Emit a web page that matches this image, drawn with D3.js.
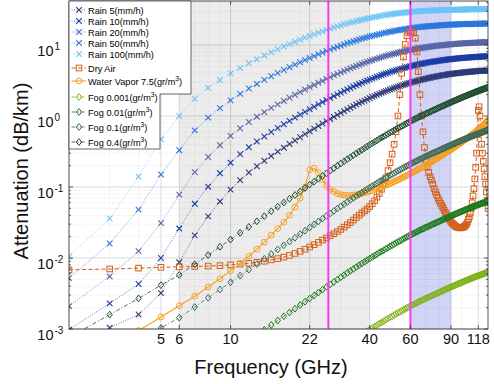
<!DOCTYPE html>
<html lang="en">
<head>
<meta charset="UTF-8">
<title>Attenuation vs Frequency</title>
<style>
  body { margin: 0; background: #fff; }
  svg { display: block; font-family: 'Liberation Sans', Arial, sans-serif; }
</style>
</head>
<body>
<div id="chart"></div>
<script src="https://d3js.org/d3.v7.min.js"></script>
<script>
// one sample per GHz, 2..130
const freqGHz = [2,3,4,5,6,7,8,9,10,11,12,13,14,15,16,17,18,19,20,21,22,23,24,25,26,27,28,29,30,
  31,32,33,34,35,36,37,38,39,40,41,42,43,44,45,46,47,48,49,50,51,52,53,54,55,56,57,58,59,60,
  61,62,63,64,65,66,67,68,69,70,71,72,73,74,75,76,77,78,79,80,81,82,83,84,85,86,87,88,89,90,
  91,92,93,94,95,96,97,98,99,100,101,102,103,104,105,106,107,108,109,110,111,112,113,114,115,
  116,117,118,119,120,121,122,123,124,125,126,127,128,129,130];

// attenuation in dB/km
const rain5 = [0.00046,0.00104,0.0016,0.0032,0.0087,0.0208,0.0386,0.0626,0.092,
  0.125,0.160,0.196,0.234,0.273,0.315,0.358,0.404,0.452,0.502,
  0.555,0.609,0.665,0.724,0.784,0.846,0.909,0.974,1.039,1.106,
  1.173,1.24,1.31,1.38,1.45,1.52,1.58,1.65,1.72,1.79,
  1.86,1.92,1.99,2.05,2.12,2.18,2.24,2.30,2.36,2.42,
  2.48,2.53,2.59,2.64,2.70,2.75,2.80,2.85,2.90,2.95,
  2.99,3.04,3.08,3.13,3.17,3.21,3.25,3.29,3.32,3.36,
  3.39,3.43,3.46,3.50,3.53,3.56,3.59,3.62,3.65,3.68,
  3.71,3.73,3.76,3.78,3.81,3.83,3.85,3.88,3.90,3.92,
  3.94,3.96,3.97,3.99,4.01,4.03,4.04,4.06,4.07,4.09,
  4.10,4.12,4.13,4.14,4.16,4.17,4.18,4.20,4.21,4.22,
  4.23,4.24,4.25,4.27,4.28,4.29,4.30,4.31,4.32,4.33,
  4.34,4.34,4.35,4.35,4.36,4.36,4.37,4.37,4.38,4.38];
const rain10 = [0.00098,0.0023,0.0043,0.0100,0.026,0.058,0.101,0.156,0.220,
  0.290,0.363,0.438,0.515,0.595,0.678,0.765,0.855,0.948,1.045,
  1.144,1.246,1.351,1.459,1.568,1.679,1.79,1.905,2.02,2.135,
  2.25,2.37,2.48,2.60,2.71,2.82,2.93,3.05,3.16,3.26,
  3.36,3.47,3.57,3.68,3.78,3.87,3.97,4.06,4.16,4.25,
  4.33,4.41,4.50,4.58,4.66,4.73,4.80,4.88,4.95,5.02,
  5.08,5.14,5.21,5.27,5.33,5.38,5.44,5.49,5.55,5.60,
  5.65,5.69,5.74,5.78,5.83,5.87,5.91,5.94,5.98,6.02,
  6.05,6.09,6.12,6.16,6.19,6.22,6.25,6.28,6.31,6.34,
  6.36,6.39,6.41,6.44,6.46,6.48,6.50,6.53,6.55,6.57,
  6.58,6.60,6.61,6.63,6.64,6.66,6.67,6.69,6.70,6.72,
  6.73,6.75,6.76,6.77,6.79,6.80,6.82,6.83,6.85,6.86,
  6.87,6.88,6.89,6.90,6.91,6.92,6.93,6.94,6.95,6.96];
const rain20 = [0.0021,0.0055,0.0125,0.031,0.078,0.162,0.265,0.388,0.526,
  0.673,0.824,0.978,1.135,1.30,1.46,1.63,1.81,1.99,2.17,
  2.36,2.55,2.74,2.94,3.13,3.33,3.53,3.73,3.92,4.12,
  4.31,4.51,4.70,4.89,5.07,5.25,5.43,5.61,5.78,5.95,
  6.11,6.27,6.43,6.59,6.75,6.89,7.02,7.16,7.29,7.43,
  7.55,7.67,7.79,7.91,8.03,8.13,8.23,8.33,8.43,8.53,
  8.61,8.70,8.78,8.87,8.95,9.02,9.09,9.17,9.24,9.31,
  9.37,9.43,9.49,9.55,9.61,9.66,9.71,9.76,9.81,9.86,
  9.90,9.94,9.98,10.03,10.07,10.11,10.14,10.18,10.21,10.25,
  10.28,10.31,10.34,10.37,10.40,10.43,10.45,10.48,10.50,10.53,
  10.55,10.56,10.58,10.60,10.62,10.64,10.65,10.67,10.69,10.71,
  10.73,10.74,10.76,10.77,10.79,10.81,10.82,10.84,10.85,10.87,
  10.88,10.89,10.90,10.91,10.92,10.93,10.94,10.95,10.96,10.97];
const rain50 = [0.0052,0.016,0.048,0.15,0.33,0.628,0.948,1.29,1.66,
  2.05,2.44,2.83,3.23,3.63,4.04,4.45,4.87,5.30,5.72,
  6.15,6.57,6.99,7.41,7.83,8.24,8.65,9.05,9.43,9.82,
  10.2,10.6,10.9,11.3,11.6,12.0,12.3,12.6,12.9,13.2,
  13.5,13.7,14.0,14.2,14.5,14.7,14.9,15.2,15.4,15.6,
  15.8,16.0,16.1,16.3,16.5,16.6,16.8,16.9,17.1,17.2,
  17.3,17.4,17.6,17.7,17.8,17.9,18.0,18.1,18.2,18.3,
  18.36,18.42,18.48,18.54,18.6,18.66,18.72,18.78,18.84,18.9,
  18.96,19.02,19.08,19.14,19.2,19.24,19.28,19.32,19.36,19.4,
  19.42,19.44,19.46,19.48,19.5,19.54,19.58,19.62,19.66,19.7,
  19.71,19.72,19.73,19.74,19.75,19.76,19.77,19.78,19.79,19.8,
  19.82,19.84,19.86,19.88,19.9,19.92,19.94,19.96,19.98,20.0,
  20.01,20.02,20.03,20.04,20.05,20.06,20.07,20.08,20.09,20.1];
const rain100 = [0.0105,0.036,0.14,0.47,1.0,1.75,2.49,3.22,3.98,
  4.75,5.53,6.31,7.11,7.91,8.71,9.52,10.3,11.1,11.9,
  12.7,13.4,14.2,14.9,15.6,16.3,17.0,17.7,18.3,19.0,
  19.6,20.1,20.7,21.2,21.8,22.2,22.7,23.2,23.6,24.0,
  24.4,24.8,25.1,25.5,25.9,26.2,26.5,26.7,27.0,27.3,
  27.5,27.7,28.0,28.2,28.4,28.6,28.7,28.9,29.0,29.2,
  29.3,29.5,29.6,29.8,29.9,30.0,30.1,30.2,30.3,30.4,
  30.46,30.52,30.58,30.64,30.7,30.76,30.82,30.88,30.94,31.0,
  31.04,31.08,31.12,31.16,31.2,31.22,31.24,31.26,31.28,31.3,
  31.34,31.38,31.42,31.46,31.5,31.52,31.54,31.56,31.58,31.6,
  31.62,31.64,31.66,31.68,31.7,31.72,31.74,31.76,31.78,31.8,
  31.82,31.84,31.86,31.88,31.9,31.92,31.94,31.96,31.98,32.0,
  32.02,32.04,32.06,32.08,32.1,32.12,32.14,32.16,32.18,32.2];
const dryAir = [0.0068,0.0070,0.0072,0.0074,0.0075,0.0076,0.0077,0.0078,0.0080,
  0.0082,0.0084,0.0087,0.0090,0.0094,0.0098,0.0103,0.0109,0.0116,0.0124,
  0.0133,0.0143,0.0154,0.0166,0.0179,0.0192,0.0206,0.022,0.0236,0.0253,
  0.0272,0.0293,0.0316,0.0342,0.037,0.040,0.043,0.046,0.049,0.053,
  0.058,0.064,0.072,0.081,0.093,0.11,0.135,0.17,0.22,0.29,
  0.4,0.6,1.0,2.0,4.0,6.8,10.2,13.5,14.8,15.2,
  15.2,14.8,12.5,8.0,4.2,2.0,1.0,0.6,0.36,0.24,
  0.19,0.16,0.14,0.125,0.11,0.095,0.085,0.077,0.07,0.064,
  0.059,0.055,0.051,0.047,0.044,0.041,0.038,0.036,0.034,0.032,
  0.031,0.03,0.029,0.028,0.0275,0.027,0.0268,0.0266,0.0266,0.0268,
  0.027,0.0275,0.028,0.029,0.030,0.032,0.035,0.038,0.043,0.05,
  0.06,0.075,0.095,0.13,0.19,0.3,0.55,1.2,1.35,1.0,
  0.6,0.4,0.3,0.23,0.18,0.14,0.11,0.085,0.065,0.05];
const waterVapor = [0.00024,0.00053,0.00095,0.00148,0.00213,0.0029,0.0039,0.0051,0.0066,
  0.0084,0.0106,0.0133,0.0167,0.021,0.026,0.032,0.040,0.052,0.07,
  0.1,0.175,0.185,0.16,0.127,0.105,0.093,0.086,0.081,0.078,
  0.077,0.076,0.076,0.077,0.078,0.079,0.081,0.083,0.085,0.087,
  0.089,0.092,0.094,0.097,0.10,0.103,0.106,0.109,0.112,0.115,
  0.119,0.122,0.126,0.13,0.134,0.138,0.142,0.146,0.15,0.155,
  0.159,0.164,0.168,0.173,0.178,0.183,0.188,0.193,0.198,0.204,
  0.21,0.215,0.221,0.227,0.233,0.239,0.245,0.252,0.258,0.265,
  0.272,0.279,0.286,0.293,0.30,0.308,0.315,0.323,0.331,0.339,
  0.347,0.356,0.364,0.373,0.382,0.391,0.40,0.41,0.42,0.43,
  0.44,0.45,0.46,0.47,0.48,0.49,0.50,0.51,0.525,0.535,
  0.55,0.56,0.575,0.585,0.60,0.615,0.63,0.645,0.66,0.675,
  0.69,0.71,0.725,0.745,0.765,0.785,0.805,0.83,0.855,0.88];
const fog0001 = [1.91e-6,3.98e-6,6.76e-6,1.035e-5,1.445e-5,2.04e-5,2.75e-5,3.6e-5,4.55e-5,
  5.64e-5,6.86e-5,8.22e-5,9.73e-5,1.14e-4,1.32e-4,1.51e-4,1.71e-4,1.93e-4,2.17e-4,
  2.42e-4,2.69e-4,2.97e-4,3.27e-4,3.58e-4,3.91e-4,4.25e-4,4.6e-4,4.97e-4,5.36e-4,
  5.75e-4,6.17e-4,6.58e-4,7.01e-4,7.45e-4,7.91e-4,8.36e-4,8.83e-4,9.31e-4,9.82e-4,
  1.03e-3,1.08e-3,1.13e-3,1.19e-3,1.24e-3,1.29e-3,1.35e-3,1.40e-3,1.46e-3,1.51e-3,
  1.57e-3,1.63e-3,1.69e-3,1.74e-3,1.80e-3,1.86e-3,1.92e-3,1.98e-3,2.04e-3,2.10e-3,
  2.16e-3,2.22e-3,2.28e-3,2.34e-3,2.40e-3,2.46e-3,2.52e-3,2.58e-3,2.64e-3,2.70e-3,
  2.75e-3,2.81e-3,2.87e-3,2.93e-3,2.99e-3,3.05e-3,3.10e-3,3.16e-3,3.23e-3,3.29e-3,
  3.35e-3,3.41e-3,3.47e-3,3.53e-3,3.60e-3,3.66e-3,3.72e-3,3.78e-3,3.85e-3,3.91e-3,
  3.97e-3,4.04e-3,4.09e-3,4.16e-3,4.22e-3,4.29e-3,4.35e-3,4.41e-3,4.47e-3,4.53e-3,
  4.59e-3,4.66e-3,4.72e-3,4.79e-3,4.84e-3,4.91e-3,4.97e-3,5.04e-3,5.09e-3,5.15e-3,
  5.21e-3,5.27e-3,5.33e-3,5.40e-3,5.46e-3,5.52e-3,5.57e-3,5.64e-3,5.69e-3,5.75e-3,
  5.81e-3,5.86e-3,5.93e-3,5.98e-3,6.04e-3,6.10e-3,6.15e-3,6.21e-3,6.27e-3,6.32e-3];
const fog001 = [1.91e-5,3.98e-5,6.76e-5,1.035e-4,1.445e-4,2.04e-4,2.75e-4,3.6e-4,4.55e-4,
  5.64e-4,6.86e-4,8.22e-4,9.73e-4,1.14e-3,1.32e-3,1.51e-3,1.71e-3,1.93e-3,2.17e-3,
  2.42e-3,2.69e-3,2.97e-3,3.27e-3,3.58e-3,3.91e-3,4.25e-3,4.6e-3,4.97e-3,5.36e-3,
  5.75e-3,6.17e-3,6.58e-3,7.01e-3,7.45e-3,7.91e-3,8.36e-3,8.83e-3,9.31e-3,9.82e-3,
  1.03e-2,1.08e-2,1.13e-2,1.19e-2,1.24e-2,1.29e-2,1.35e-2,1.40e-2,1.46e-2,1.51e-2,
  1.57e-2,1.63e-2,1.69e-2,1.74e-2,1.80e-2,1.86e-2,1.92e-2,1.98e-2,2.04e-2,2.10e-2,
  2.16e-2,2.22e-2,2.28e-2,2.34e-2,2.40e-2,2.46e-2,2.52e-2,2.58e-2,2.64e-2,2.70e-2,
  2.75e-2,2.81e-2,2.87e-2,2.93e-2,2.99e-2,3.05e-2,3.10e-2,3.16e-2,3.23e-2,3.29e-2,
  3.35e-2,3.41e-2,3.47e-2,3.53e-2,3.60e-2,3.66e-2,3.72e-2,3.78e-2,3.85e-2,3.91e-2,
  3.97e-2,4.04e-2,4.09e-2,4.16e-2,4.22e-2,4.29e-2,4.35e-2,4.41e-2,4.47e-2,4.53e-2,
  4.59e-2,4.66e-2,4.72e-2,4.79e-2,4.84e-2,4.91e-2,4.97e-2,5.04e-2,5.09e-2,5.15e-2,
  5.21e-2,5.27e-2,5.33e-2,5.40e-2,5.46e-2,5.52e-2,5.57e-2,5.64e-2,5.69e-2,5.75e-2,
  5.81e-2,5.86e-2,5.93e-2,5.98e-2,6.04e-2,6.10e-2,6.15e-2,6.21e-2,6.27e-2,6.32e-2];
const fog01 = [1.91e-4,3.98e-4,6.76e-4,1.035e-3,1.445e-3,2.04e-3,2.75e-3,3.6e-3,4.55e-3,
  5.64e-3,6.86e-3,8.22e-3,9.73e-3,1.14e-2,1.32e-2,1.51e-2,1.71e-2,1.93e-2,2.17e-2,
  2.42e-2,2.69e-2,2.97e-2,3.27e-2,3.58e-2,3.91e-2,4.25e-2,4.6e-2,4.97e-2,5.36e-2,
  5.75e-2,6.17e-2,6.58e-2,7.01e-2,7.45e-2,7.91e-2,8.36e-2,8.83e-2,9.31e-2,9.82e-2,
  0.103,0.108,0.113,0.119,0.124,0.129,0.135,0.140,0.146,0.151,
  0.157,0.163,0.169,0.174,0.180,0.186,0.192,0.198,0.204,0.210,
  0.216,0.222,0.228,0.234,0.240,0.246,0.252,0.258,0.264,0.270,
  0.275,0.281,0.287,0.293,0.299,0.305,0.310,0.316,0.323,0.329,
  0.335,0.341,0.347,0.353,0.360,0.366,0.372,0.378,0.385,0.391,
  0.397,0.404,0.409,0.416,0.422,0.429,0.435,0.441,0.447,0.453,
  0.459,0.466,0.472,0.479,0.484,0.491,0.497,0.504,0.509,0.515,
  0.521,0.527,0.533,0.540,0.546,0.552,0.557,0.564,0.569,0.575,
  0.581,0.586,0.593,0.598,0.604,0.610,0.615,0.621,0.627,0.632];
const fog04 = [0.000764,0.00159,0.0027,0.00414,0.00578,0.00816,0.011,0.0144,0.0182,
  0.0226,0.0274,0.0329,0.0389,0.0456,0.0528,0.0604,0.0684,0.0772,0.0868,
  0.0968,0.108,0.119,0.131,0.143,0.156,0.170,0.184,0.199,0.214,
  0.230,0.247,0.263,0.280,0.298,0.316,0.334,0.353,0.372,0.393,
  0.412,0.432,0.452,0.476,0.496,0.516,0.540,0.560,0.584,0.604,
  0.628,0.652,0.676,0.696,0.720,0.744,0.768,0.792,0.816,0.840,
  0.864,0.888,0.912,0.936,0.960,0.984,1.008,1.032,1.056,1.080,
  1.100,1.124,1.148,1.172,1.196,1.220,1.240,1.264,1.292,1.316,
  1.340,1.364,1.388,1.412,1.440,1.464,1.488,1.512,1.540,1.564,
  1.588,1.616,1.636,1.664,1.688,1.716,1.740,1.764,1.788,1.812,
  1.836,1.864,1.888,1.916,1.936,1.964,1.988,2.016,2.036,2.060,
  2.084,2.108,2.132,2.160,2.184,2.208,2.228,2.256,2.276,2.300,
  2.324,2.344,2.372,2.392,2.416,2.440,2.460,2.484,2.508,2.528];

const xTicks = [5, 6, 10, 22, 40, 60, 90, 118];
const yExponents = [-3, -2, -1, 0, 1];
const bandGray = [6, 40];   // GHz
const bandBlue = [60, 90];  // GHz
const markLines = [26.5, 60]; // GHz

const series = [
  {label: ['Rain 5(mm/h)'], values: rain5, color: '#2e3b78', mark: 'x', dash: '1,1.5', lw: 0.7},
  {label: ['Rain 10(mm/h)'], values: rain10, color: '#1b3ca6', mark: 'x', dash: '1,1.5', lw: 0.7},
  {label: ['Rain 20(mm/h)'], values: rain20, color: '#5766a8', mark: 'x', dash: '1,1.5', lw: 0.7},
  {label: ['Rain 50(mm/h)'], values: rain50, color: '#2a78dc', mark: 'x', dash: '1,1.5', lw: 0.7},
  {label: ['Rain 100(mm/h)'], values: rain100, color: '#6cc4f4', mark: 'x', dash: '1,1.5', lw: 0.7},
  {label: ['Dry Air'], values: dryAir, color: '#d4601a', mark: 'square', dash: '4,2.5', lw: 1},
  {label: ['Water Vapor 7.5(gr/m', '3', ')'], values: waterVapor, color: '#f5a020', mark: 'circle', dash: null, lw: 1.1},
  {label: ['Fog 0.001(gr/m', '3', ')'], values: fog0001, color: '#7fb21a', mark: 'diamond', dash: '4,2,1,2', lw: 0.8},
  {label: ['Fog 0.01(gr/m', '3', ')'], values: fog001, color: '#1d7a1d', mark: 'diamond', dash: '4,2,1,2', lw: 0.8},
  {label: ['Fog 0.1(gr/m', '3', ')'], values: fog01, color: '#3b6a55', mark: 'diamond', dash: '4,2,1,2', lw: 0.8},
  {label: ['Fog 0.4(gr/m', '3', ')'], values: fog04, color: '#1f4d2e', mark: 'diamond', dash: '4,2,1,2', lw: 0.8}
];

const width = 494, height = 384;
const plot = {left: 69, right: 488, top: 1, bottom: 329};

const svg = d3.select('#chart').append('svg')
    .attr('width', width)
    .attr('height', height);

const x = d3.scaleLog().domain([2, 130]).range([plot.left, plot.right]);
const y = d3.scaleLog().domain([1e-3, 41.7]).range([plot.bottom, plot.top]);

svg.append('defs').append('clipPath').attr('id', 'clip')
  .append('rect')
    .attr('x', plot.left).attr('y', plot.top)
    .attr('width', plot.right - plot.left).attr('height', plot.bottom - plot.top);

// grid
const minorX = [2, 3, 4, 7, 8, 9, 20, 30, 50, 70, 80, 100];
const minorY = [];
yExponents.forEach(e => { for (let k = 2; k <= 9; k++) minorY.push(k * Math.pow(10, e)); });

const grid = svg.append('g');
grid.selectAll('.gxm').data(minorX).enter().append('line')
    .attr('x1', d => x(d)).attr('x2', d => x(d))
    .attr('y1', plot.top).attr('y2', plot.bottom)
    .attr('stroke', '#d6d6d6').attr('stroke-width', 0.6).attr('stroke-dasharray', '1,1.5');
grid.selectAll('.gx').data(xTicks).enter().append('line')
    .attr('x1', d => x(d)).attr('x2', d => x(d))
    .attr('y1', plot.top).attr('y2', plot.bottom)
    .attr('stroke', '#cccccc').attr('stroke-width', 0.7);
grid.selectAll('.gym').data(minorY.filter(v => v < 41.7)).enter().append('line')
    .attr('x1', plot.left).attr('x2', plot.right)
    .attr('y1', d => y(d)).attr('y2', d => y(d))
    .attr('stroke', '#d6d6d6').attr('stroke-width', 0.6).attr('stroke-dasharray', '1,1.5');
grid.selectAll('.gy').data(yExponents).enter().append('line')
    .attr('x1', plot.left).attr('x2', plot.right)
    .attr('y1', d => y(Math.pow(10, d))).attr('y2', d => y(Math.pow(10, d)))
    .attr('stroke', '#cccccc').attr('stroke-width', 0.7);

// shaded bands
svg.append('rect')
    .attr('x', x(bandGray[0])).attr('width', x(bandGray[1]) - x(bandGray[0]))
    .attr('y', plot.top).attr('height', plot.bottom - plot.top)
    .attr('fill', '#000').attr('fill-opacity', 0.075);
svg.append('rect')
    .attr('x', x(bandBlue[0])).attr('width', x(bandBlue[1]) - x(bandBlue[0]))
    .attr('y', plot.top).attr('height', plot.bottom - plot.top)
    .attr('fill', '#3f4bd6').attr('fill-opacity', 0.24);

// markers
function drawMark(g, type, color, size) {
    const s = size;
    if (type === 'x') {
        g.append('path').attr('d', `M${-s},${-s}L${s},${s}M${-s},${s}L${s},${-s}`)
            .attr('stroke', color).attr('stroke-width', 1.1).attr('fill', 'none');
    } else if (type === 'square') {
        g.append('rect').attr('x', -s).attr('y', -s).attr('width', 2 * s).attr('height', 2 * s)
            .attr('stroke', color).attr('stroke-width', 1).attr('fill', 'none');
    } else if (type === 'circle') {
        g.append('circle').attr('r', s)
            .attr('stroke', color).attr('stroke-width', 1).attr('fill', 'none');
    } else {
        g.append('path').attr('d', `M0,${-s - 0.7}L${s},0L0,${s + 0.7}L${-s},0Z`)
            .attr('stroke', color).attr('stroke-width', 1).attr('fill', 'none');
    }
}
const markSize = {x: 2.8, square: 2.8, circle: 2.9, diamond: 2.7};

const data = svg.append('g').attr('clip-path', 'url(#clip)');
const line = d3.line().x(d => x(d[0])).y(d => y(d[1]));

series.forEach(s => {
    const pts = freqGHz.map((f, i) => [f, s.values[i]]).filter(d => d[1] !== undefined);
    const g = data.append('g');
    g.append('path').datum(pts)
        .attr('d', line)
        .attr('fill', 'none')
        .attr('stroke', s.color)
        .attr('stroke-width', s.lw)
        .attr('stroke-dasharray', s.dash);
    pts.forEach(p => {
        const m = g.append('g').attr('transform', `translate(${x(p[0])},${y(p[1])})`);
        drawMark(m, s.mark, s.color, markSize[s.mark]);
    });
});

// marker frequencies
svg.selectAll('.vline').data(markLines).enter().append('line')
    .attr('x1', d => x(d)).attr('x2', d => x(d))
    .attr('y1', plot.top).attr('y2', plot.bottom)
    .attr('stroke', '#f53cf0').attr('stroke-width', 2);

// axes box and ticks
const axisColor = '#262626';
svg.append('rect')
    .attr('x', plot.left).attr('y', plot.top)
    .attr('width', plot.right - plot.left).attr('height', plot.bottom - plot.top)
    .attr('fill', 'none').attr('stroke', axisColor).attr('stroke-width', 0.8);

const ticks = svg.append('g').attr('stroke', axisColor).attr('stroke-width', 0.7);
xTicks.forEach(t => {
    ticks.append('line').attr('x1', x(t)).attr('x2', x(t)).attr('y1', plot.bottom).attr('y2', plot.bottom - 4);
    ticks.append('line').attr('x1', x(t)).attr('x2', x(t)).attr('y1', plot.top).attr('y2', plot.top + 4);
});
yExponents.forEach(e => {
    const yy = y(Math.pow(10, e));
    ticks.append('line').attr('x1', plot.left).attr('x2', plot.left + 4).attr('y1', yy).attr('y2', yy);
    ticks.append('line').attr('x1', plot.right).attr('x2', plot.right - 4).attr('y1', yy).attr('y2', yy);
});
minorY.filter(v => v < 41.7).forEach(v => {
    ticks.append('line').attr('x1', plot.left).attr('x2', plot.left + 2).attr('y1', y(v)).attr('y2', y(v));
    ticks.append('line').attr('x1', plot.right).attr('x2', plot.right - 2).attr('y1', y(v)).attr('y2', y(v));
});

// tick labels
svg.selectAll('.xl').data(xTicks).enter().append('text')
    .attr('x', d => x(d)).attr('y', 343.5)
    .attr('text-anchor', 'middle')
    .attr('font-size', 14.5).attr('fill', '#111')
    .text(d => d);

yExponents.forEach(e => {
    const yy = y(Math.pow(10, e));
    svg.append('text').attr('x', 53.5).attr('y', yy + 10.5)
        .attr('text-anchor', 'end').attr('font-size', 14.5).attr('fill', '#111').text('10');
    svg.append('text').attr('x', 54.5).attr('y', yy + 4.5)
        .attr('font-size', 10).attr('fill', '#111').text(e);
});

// axis titles
svg.append('text')
    .attr('x', 271).attr('y', 374)
    .attr('text-anchor', 'middle').attr('font-size', 20).attr('fill', '#111')
    .text('Frequency (GHz)');
svg.append('text')
    .attr('transform', 'translate(28,171) rotate(-90)')
    .attr('text-anchor', 'middle').attr('font-size', 20).attr('fill', '#111')
    .text('Attenuation (dB/km)');

// legend: wide upper block, narrower block for the fog entries
const rowY = [10, 21, 32, 43, 54, 68, 81, 97, 112, 127, 142];
const legend = svg.append('g');
const lgL = plot.left, lgT = plot.top, lgR = 191, lgStepY = 94, lgStepX = 160, lgB = 149;
legend.append('path')
    .attr('d', `M${lgL},${lgT}H${lgR}V${lgStepY}H${lgStepX}V${lgB}H${lgL}Z`)
    .attr('fill', '#fff').attr('stroke', axisColor).attr('stroke-width', 0.7);

series.forEach((s, i) => {
    const ry = rowY[i];
    legend.append('line')
        .attr('x1', 71.5).attr('x2', 86).attr('y1', ry).attr('y2', ry)
        .attr('stroke', s.color).attr('stroke-width', s.lw).attr('stroke-dasharray', s.dash);
    const m = legend.append('g').attr('transform', `translate(79,${ry})`);
    drawMark(m, s.mark, s.color, markSize[s.mark]);
    const t = legend.append('text')
        .attr('x', 88).attr('y', ry + 3.5)
        .attr('font-size', 9.2).attr('fill', '#000');
    t.append('tspan').text(s.label[0]);
    if (s.label.length > 1) {
        t.append('tspan').attr('dy', -4).attr('font-size', 6.6).text(s.label[1]);
        t.append('tspan').attr('dy', 4).text(s.label[2]);
    }
});
</script>
</body>
</html>
